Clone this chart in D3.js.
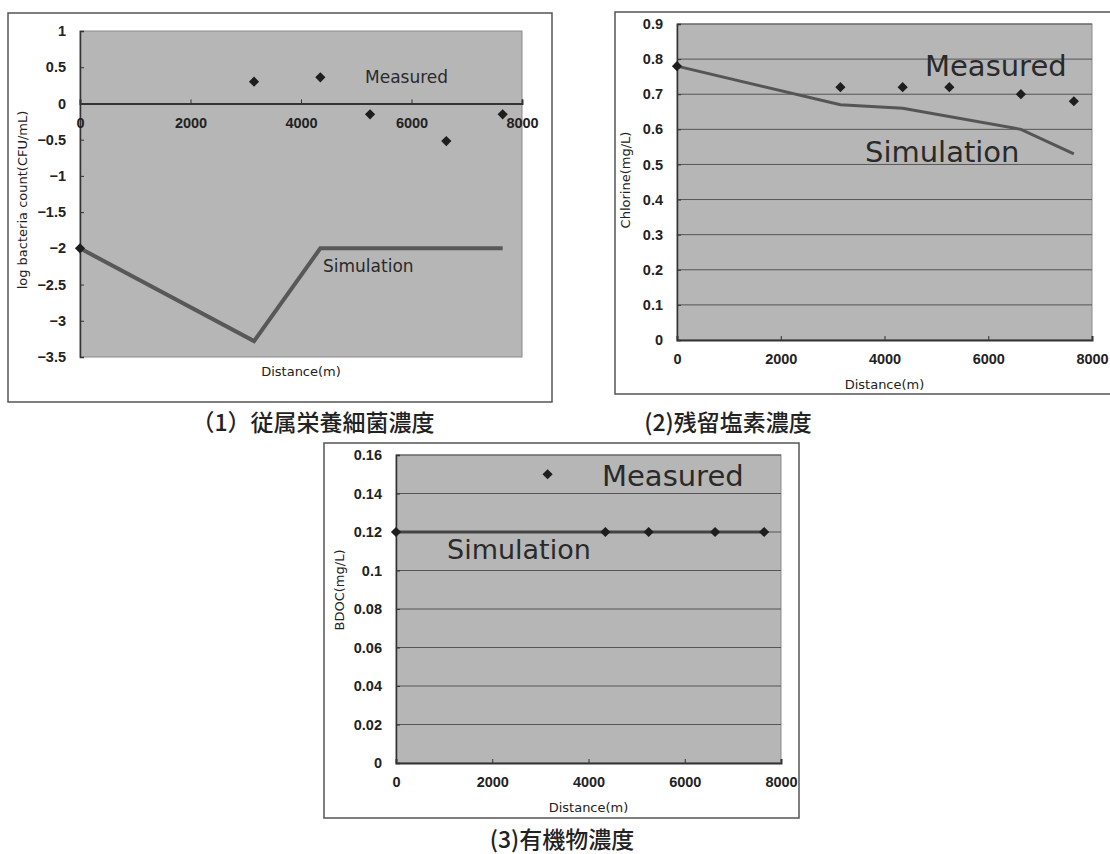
<!DOCTYPE html>
<html>
<head>
<meta charset="utf-8">
<script src="https://cdn.jsdelivr.net/npm/d3@7"></script>
<style>
  body { margin: 0; background: #fff; }
  svg { display: block; }
  .tick-label { font-family: "Liberation Sans", Arial, sans-serif; font-weight: bold; font-size: 14.5px; fill: #222; }
  .axis-title { font-family: "DejaVu Sans", sans-serif; font-size: 13px; fill: #222; }
  .caption { font-family: "Noto Sans CJK JP", sans-serif; font-weight: 500; font-size: 23px; fill: #222; }
  .series-label { font-family: "DejaVu Sans", sans-serif; fill: #2a2a2a; }
</style>
</head>
<body>
<div id="chart"></div>
<script>
// Measured sampling distances (m)
var distances = [0, 3150, 4350, 5250, 6630, 7650];

// (1) heterotrophic bacteria, log CFU/mL
var bacteriaMeasured = [-2, 0.3, 0.36, -0.15, -0.52, -0.15];
var bacteriaSimDist = [0, 3150, 4350, 7650];
var bacteriaSim = [-2, -3.28, -2, -2];
var bacteriaTicks = [1, 0.5, 0, -0.5, -1, -1.5, -2, -2.5, -3, -3.5];

// (2) residual chlorine, mg/L
var chlorineMeasured = [0.78, 0.72, 0.72, 0.72, 0.70, 0.68];
var chlorineSimDist = [0, 3150, 4350, 6630, 7650];
var chlorineSim = [0.78, 0.67, 0.66, 0.60, 0.53];
var chlorineTicks = [0, 0.1, 0.2, 0.3, 0.4, 0.5, 0.6, 0.7, 0.8, 0.9];

// (3) BDOC, mg/L
var bdocMeasured = [0.12, 0.15, 0.12, 0.12, 0.12, 0.12];
var bdocSim = [0.12, 0.12, 0.12, 0.12, 0.12, 0.12];
var bdocTicks = [0, 0.02, 0.04, 0.06, 0.08, 0.1, 0.12, 0.14, 0.16];

var xTicks = [0, 2000, 4000, 6000, 8000];

var svg = d3.select("#chart").append("svg")
    .attr("width", 1110)
    .attr("height", 854);

// draws one framed chart panel
function drawPanel(cfg){
  var g = svg.append("g");

  // outer frame
  g.append("rect")
    .attr("x", cfg.frame[0]).attr("y", cfg.frame[1])
    .attr("width", cfg.frame[2] - cfg.frame[0])
    .attr("height", cfg.frame[3] - cfg.frame[1])
    .attr("fill", "#fff")
    .attr("stroke", "#555")
    .attr("stroke-width", 1.5);

  var x = d3.scaleLinear().domain([0, 8000]).range([cfg.left, cfg.right]);
  var y = d3.scaleLinear().domain(d3.extent(cfg.yTicks)).range([cfg.bottom, cfg.top]);

  // plot background
  g.append("rect")
    .attr("x", cfg.left).attr("y", cfg.top)
    .attr("width", cfg.right - cfg.left)
    .attr("height", cfg.bottom - cfg.top)
    .attr("fill", "#b6b6b6")
    .attr("stroke", "#8a8a8a")
    .attr("stroke-width", 1);

  // gridlines
  if(cfg.grid){
    g.selectAll(".grid").data(cfg.yTicks.filter(function(d){ return d !== y.domain()[0]; }))
      .enter().append("line")
      .attr("x1", cfg.left).attr("x2", cfg.right)
      .attr("y1", function(d){ return y(d); })
      .attr("y2", function(d){ return y(d); })
      .attr("stroke", "#555")
      .attr("stroke-width", 1);
  }

  // y axis
  var fmt = d3.format(cfg.yFormat);
  var yAxis = d3.axisLeft(y).tickValues(cfg.yTicks).tickSize(-4).tickPadding(10).tickFormat(fmt);
  var ya = g.append("g").attr("transform", "translate(" + cfg.left + ",0)").call(yAxis);
  ya.select(".domain").attr("stroke", "#333").attr("stroke-width", 1.5);
  ya.selectAll(".tick line").attr("stroke", "#333");
  ya.selectAll(".tick text").attr("class", "tick-label").attr("x", -14);

  // x axis (crosses at y = 0)
  var xAxis = d3.axisBottom(x).tickValues(xTicks).tickSize(-4).tickPadding(14).tickFormat(d3.format("d"));
  var xa = g.append("g").attr("transform", "translate(0," + y(0) + ")").call(xAxis);
  xa.select(".domain").attr("stroke", "#333").attr("stroke-width", 2);
  xa.selectAll(".tick line").attr("stroke", "#333");
  xa.selectAll(".tick text").attr("class", "tick-label");

  // simulation line
  var line = d3.line()
    .x(function(d){ return x(d[0]); })
    .y(function(d){ return y(d[1]); });
  g.append("path")
    .datum(d3.zip(cfg.simDist, cfg.sim))
    .attr("d", line)
    .attr("fill", "none")
    .attr("stroke", cfg.lineColor)
    .attr("stroke-width", cfg.lineWidth)
    .attr("stroke-linejoin", "miter");

  // measured points
  var diamond = d3.symbol().type(d3.symbolSquare).size(52);
  g.selectAll(".pt").data(d3.zip(distances, cfg.measured))
    .enter().append("path")
    .attr("d", diamond)
    .attr("transform", function(d){ return "translate(" + x(d[0]) + "," + y(d[1]) + ") rotate(45)"; })
    .attr("fill", "#1e1e1e");

  // series labels
  g.append("text").attr("class", "series-label")
    .attr("x", cfg.measuredLabel[0]).attr("y", cfg.measuredLabel[1])
    .style("font-size", cfg.measuredSize + "px")
    .text("Measured");
  g.append("text").attr("class", "series-label")
    .attr("x", cfg.simLabel[0]).attr("y", cfg.simLabel[1])
    .style("font-size", cfg.simSize + "px")
    .text("Simulation");

  // axis titles
  g.append("text").attr("class", "axis-title")
    .attr("x", (cfg.left + cfg.right) / 2)
    .attr("y", cfg.xTitleY)
    .attr("text-anchor", "middle")
    .text("Distance(m)");
  g.append("text").attr("class", "axis-title")
    .attr("transform", "translate(" + cfg.yTitlePos[0] + "," + cfg.yTitlePos[1] + ") rotate(-90)")
    .attr("text-anchor", "middle")
    .text(cfg.yTitle);

  // caption
  svg.append("text").attr("class", "caption")
    .attr("x", cfg.caption[0]).attr("y", cfg.caption[1])
    .attr("text-anchor", "middle")
    .text(cfg.captionText);
}

drawPanel({
  frame: [8, 13, 552, 402],
  left: 80, right: 522, top: 31, bottom: 357,
  yTicks: bacteriaTicks, yFormat: ".1~f", grid: false,
  measured: bacteriaMeasured, simDist: bacteriaSimDist, sim: bacteriaSim,
  lineColor: "#585858", lineWidth: 4,
  measuredSize: 17, simSize: 17, measuredLabel: [365, 83], simLabel: [323, 272],
  xTitleY: 376, yTitle: "log bacteria count(CFU/mL)", yTitlePos: [27, 200],
  caption: [313, 431], captionText: "（1）従属栄養細菌濃度"
});

drawPanel({
  frame: [615, 12, 1112, 394],
  left: 677, right: 1092, top: 24, bottom: 340,
  yTicks: chlorineTicks, yFormat: ".1~f", grid: true,
  measured: chlorineMeasured, simDist: chlorineSimDist, sim: chlorineSim,
  lineColor: "#555", lineWidth: 3,
  measuredSize: 29, simSize: 29, measuredLabel: [925, 76], simLabel: [865, 162],
  xTitleY: 389, yTitle: "Chlorine(mg/L)", yTitlePos: [630, 180],
  caption: [728, 431], captionText: "(2)残留塩素濃度"
});

drawPanel({
  frame: [324, 443, 799, 818],
  left: 396, right: 781, top: 455, bottom: 763,
  yTicks: bdocTicks, yFormat: ".2~f", grid: true,
  measured: bdocMeasured, simDist: distances, sim: bdocSim,
  lineColor: "#444", lineWidth: 3,
  measuredSize: 29, simSize: 27, measuredLabel: [602, 486], simLabel: [447, 559],
  xTitleY: 812, yTitle: "BDOC(mg/L)", yTitlePos: [344, 590],
  caption: [562, 848], captionText: "(3)有機物濃度"
});
</script>
</body>
</html>
